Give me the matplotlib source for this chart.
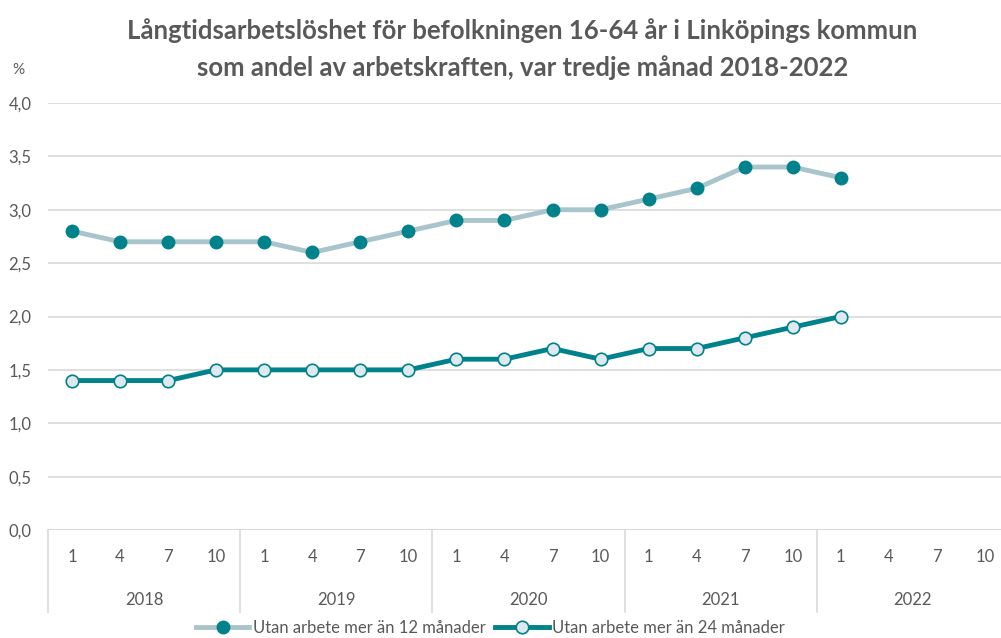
import numpy as np
import matplotlib.pyplot as plt

years = ["2018", "2019", "2020", "2021", "2022"]
months = ["1", "4", "7", "10"]
over12 = [2.8, 2.7, 2.7, 2.7, 2.7, 2.6, 2.7, 2.8, 2.9, 2.9, 3.0, 3.0, 3.1, 3.2, 3.4, 3.4, 3.3]
over24 = [1.4, 1.4, 1.4, 1.5, 1.5, 1.5, 1.5, 1.5, 1.6, 1.6, 1.7, 1.6, 1.7, 1.7, 1.8, 1.9, 2.0]
label12 = "Utan arbete mer än 12 månader"
label24 = "Utan arbete mer än 24 månader"
title = "Långtidsarbetslöshet för befolkningen 16-64 år i Linköpings kommun\nsom andel av arbetskraften, var tredje månad 2018-2022"

teal = "#00828C"
light = "#A9C5CB"
grid_c = "#D9D9D9"
txt = "#595959"

plt.rcParams['font.family'] = ['Lato', 'DejaVu Sans']

fig = plt.figure(figsize=(10.01, 6.38), dpi=100)
ax = fig.add_axes([48 / 1001, 1 - 530 / 638, 961 / 1001, 427 / 638])

n = len(years) * len(months)
x = np.arange(len(over12))
ax.plot(x, over12, color=light, lw=3.5, marker='o', ms=9, mfc=teal, mec=teal, zorder=3, label=label12)
ax.plot(x, over24, color=teal, lw=3.5, marker='o', ms=9, mfc="#DDE9EC", mec=teal, mew=1.2, zorder=3, label=label24)

ax.set_xlim(-0.5, n - 0.5)
ax.set_ylim(0, 4)
yt = np.arange(0, 4.01, 0.5)
ax.set_yticks(yt)
ax.set_yticklabels([f"{v:.1f}".replace('.', ',') for v in yt], color=txt, fontsize=12)
ax.yaxis.grid(True, color=grid_c, lw=1.2)
ax.set_axisbelow(True)
ax.tick_params(axis='y', length=0, pad=12)
for s in ax.spines.values():
    s.set_visible(False)
ax.axhline(0, color=grid_c, lw=1.5, zorder=1)

ax.set_xticks(np.arange(n))
ax.set_xticklabels(months * len(years), color=txt, fontsize=12)
ax.tick_params(axis='x', length=0, pad=14)

# year labels and separators under the month ticks
for i, yr in enumerate(years):
    ax.text(i * 4 + 1.5, -0.66, yr, ha='center', va='center', color=txt, fontsize=12, clip_on=False)
for i in range(len(years) + 1):
    ax.plot([i * 4 - 0.5, i * 4 - 0.5], [0, -0.77], color=grid_c, lw=1.2, clip_on=False)

fig.text(18 / 1001, 1 - 70 / 638, "%", color=txt, fontsize=11, ha='center', va='center')
fig.text(0.522, 1 - 49 / 638, title, ha='center', va='center', color=txt, fontsize=18.5,
         fontweight='bold', linespacing=1.6)

fig.legend(loc='center', bbox_to_anchor=(0.49, 0.016), ncol=2, frameon=False, fontsize=12,
           handlelength=3.2, columnspacing=0.6, handletextpad=0.2, labelcolor=txt)

fig.savefig("out.png", dpi=100)
